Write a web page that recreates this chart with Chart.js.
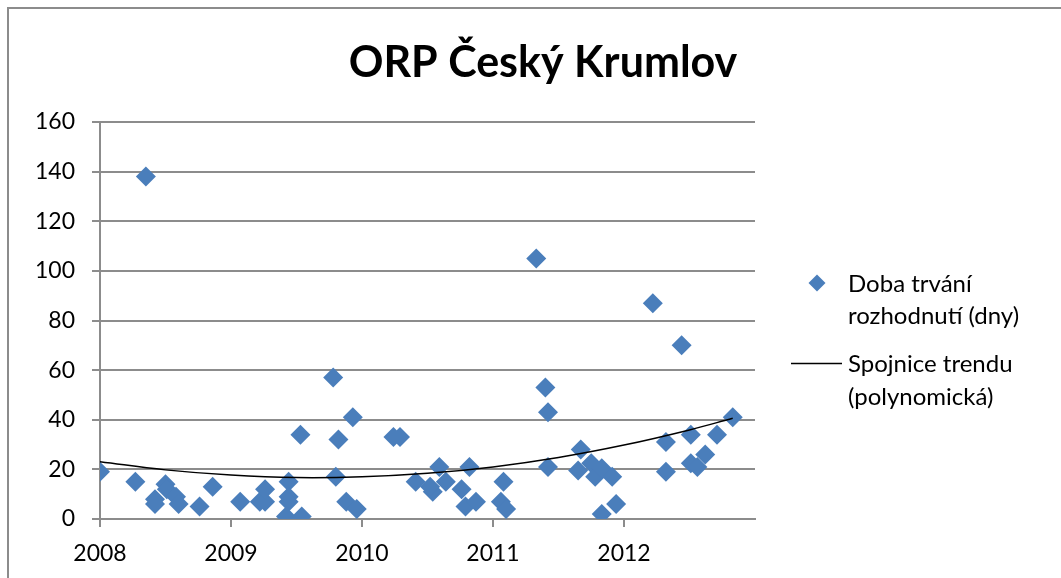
<!DOCTYPE html>
<html>
<head>
<meta charset="utf-8">
<script src="https://cdn.jsdelivr.net/npm/chart.js@4.4.1/dist/chart.umd.min.js"></script>
<style>
	body { margin: 0; background: #fff; overflow: hidden; }
	#wrap { position: relative; width: 1061px; height: 578px; }
	#frame { position: absolute; left: 7px; top: 7px; right: -10px; bottom: -10px; border-left: 2px solid #8c8c8c; border-top: 2px solid #8c8c8c; pointer-events: none; }
</style>
</head>
<body>
<div id="wrap">
	<canvas id="chart" width="1061" height="578"></canvas>
	<div id="frame"></div>
</div>
<script>
	// ===== DATA =====
	const chartTitle = 'ORP Český Krumlov';

	const pointYears = [
		2008.00, 2008.27, 2008.35, 2008.42, 2008.42, 2008.50, 2008.51, 2008.58, 2008.60, 2008.76,
		2008.86, 2009.07, 2009.22, 2009.26, 2009.26, 2009.44, 2009.44, 2009.44, 2009.42, 2009.53,
		2009.54, 2009.78, 2009.80, 2009.82, 2009.88, 2009.93, 2009.96, 2010.24, 2010.29, 2010.41,
		2010.54, 2010.52, 2010.59, 2010.64, 2010.76, 2010.82, 2010.79, 2010.87, 2011.08, 2011.06,
		2011.10, 2011.33, 2011.40, 2011.42, 2011.42, 2011.67, 2011.65, 2011.75, 2011.78, 2011.83,
		2011.91, 2011.83, 2011.94, 2012.22, 2012.44, 2012.32, 2012.32, 2012.51, 2012.51, 2012.56,
		2012.62, 2012.71, 2012.83
	];
	const pointDays = [
		19, 15, 138, 8, 6, 14, 12, 9, 6, 5,
		13, 7, 7, 7, 12, 15, 9, 7, 1, 34,
		1, 57, 17, 32, 7, 41, 4, 33, 33, 15,
		11, 13, 21, 15, 12, 21, 5, 7, 15, 7,
		4, 105, 53, 43, 21, 28, 19.5, 22.5, 17, 20.5,
		17, 2, 6, 87, 70, 31, 19, 34, 22.5, 21,
		26, 34, 41
	];

	const trendYears = [2008.0, 2008.5, 2009.0, 2009.5, 2010.0, 2010.5, 2011.0, 2011.5, 2012.0, 2012.5, 2012.83];
	const trendValues = [23.1, 19.8, 17.7, 16.7, 17.0, 18.4, 21.0, 24.8, 29.8, 35.9, 40.6];

	const xTickYears = [2008, 2009, 2010, 2011, 2012];
	const yTicks = [0, 20, 40, 60, 80, 100, 120, 140, 160];

	const seriesLabel = ['Doba trvání', 'rozhodnutí (dny)'];
	const trendLabel = ['Spojnice trendu', '(polynomická)'];

	// ===== STYLE =====
	const gridColor = '#8c8c8c';
	const markerColor = '#4a7ebb';
	const fontFamily = 'Lato, "Open Sans", sans-serif';

	// title + legend drawn next to the chart area
	const sideText = {
		id: 'sideText',
		afterDraw(chart) {
			const ctx = chart.ctx;
			ctx.save();
			ctx.fillStyle = '#000';
			ctx.textBaseline = 'middle';

			ctx.font = 'bold 43px ' + fontFamily;
			ctx.textAlign = 'center';
			ctx.fillText(chartTitle, 543, 63);

			ctx.font = '24px ' + fontFamily;
			ctx.textAlign = 'left';

			const ds = chart.data.datasets;
			// scatter marker
			ctx.fillStyle = markerColor;
			ctx.beginPath();
			ctx.moveTo(817 - 8.5, 283);
			ctx.lineTo(817, 283 - 8.5);
			ctx.lineTo(817 + 8.5, 283);
			ctx.lineTo(817, 283 + 8.5);
			ctx.closePath();
			ctx.fill();
			ctx.fillStyle = '#000';
			ds[1].label.forEach((t, i) => ctx.fillText(t, 848, 284 + i * 32));

			// trend line
			ctx.strokeStyle = '#000';
			ctx.lineWidth = 1.5;
			ctx.beginPath();
			ctx.moveTo(791, 363.5);
			ctx.lineTo(842, 363.5);
			ctx.stroke();
			ds[0].label.forEach((t, i) => ctx.fillText(t, 848, 364 + i * 33));

			ctx.restore();
		}
	};

	const ctx = document.getElementById('chart').getContext('2d');

	new Chart(ctx, {
		type: 'scatter',
		data: {
			datasets: [{
				type: 'line',
				label: trendLabel,
				data: trendYears.map((x, i) => ({ x: x, y: trendValues[i] })),
				borderColor: '#000',
				borderWidth: 1.5,
				pointRadius: 0,
				showLine: true,
				tension: 0.4,
				fill: false,
				order: 0
			}, {
				label: seriesLabel,
				data: pointYears.map((x, i) => ({ x: x, y: pointDays[i] })),
				pointStyle: 'rectRot',
				pointRadius: 10,
				pointBackgroundColor: markerColor,
				pointBorderColor: markerColor,
				pointBorderWidth: 0,
				order: 1
			}]
		},
		options: {
			responsive: false,
			animation: false,
			layout: {
				padding: { top: 122, left: 8, right: 306, bottom: 0 }
			},
			plugins: {
				legend: { display: false },
				title: { display: false },
				tooltip: { enabled: false }
			},
			scales: {
				x: {
					type: 'linear',
					min: 2008,
					max: 2013,
					afterBuildTicks: s => { s.ticks = xTickYears.map(v => ({ value: v })); },
					afterFit: s => { s.height = 59; },
					ticks: {
						color: '#000',
						padding: 13,
						font: { family: fontFamily, size: 23 },
						callback: v => String(v)
					},
					grid: {
						drawOnChartArea: false,
						drawTicks: true,
						tickLength: 8,
						color: gridColor,
						lineWidth: 2
					},
					border: { display: true, color: gridColor, width: 2 }
				},
				y: {
					min: 0,
					max: 160,
					afterBuildTicks: s => { s.ticks = yTicks.map(v => ({ value: v })); },
					afterFit: s => { s.width = 92; },
					ticks: {
						color: '#000',
						padding: 17,
						font: { family: fontFamily, size: 23 }
					},
					grid: {
						drawTicks: true,
						tickLength: 8,
						color: gridColor,
						lineWidth: 2
					},
					border: { display: true, color: gridColor, width: 2 }
				}
			}
		},
		plugins: [sideText]
	});
</script>
</body>
</html>
